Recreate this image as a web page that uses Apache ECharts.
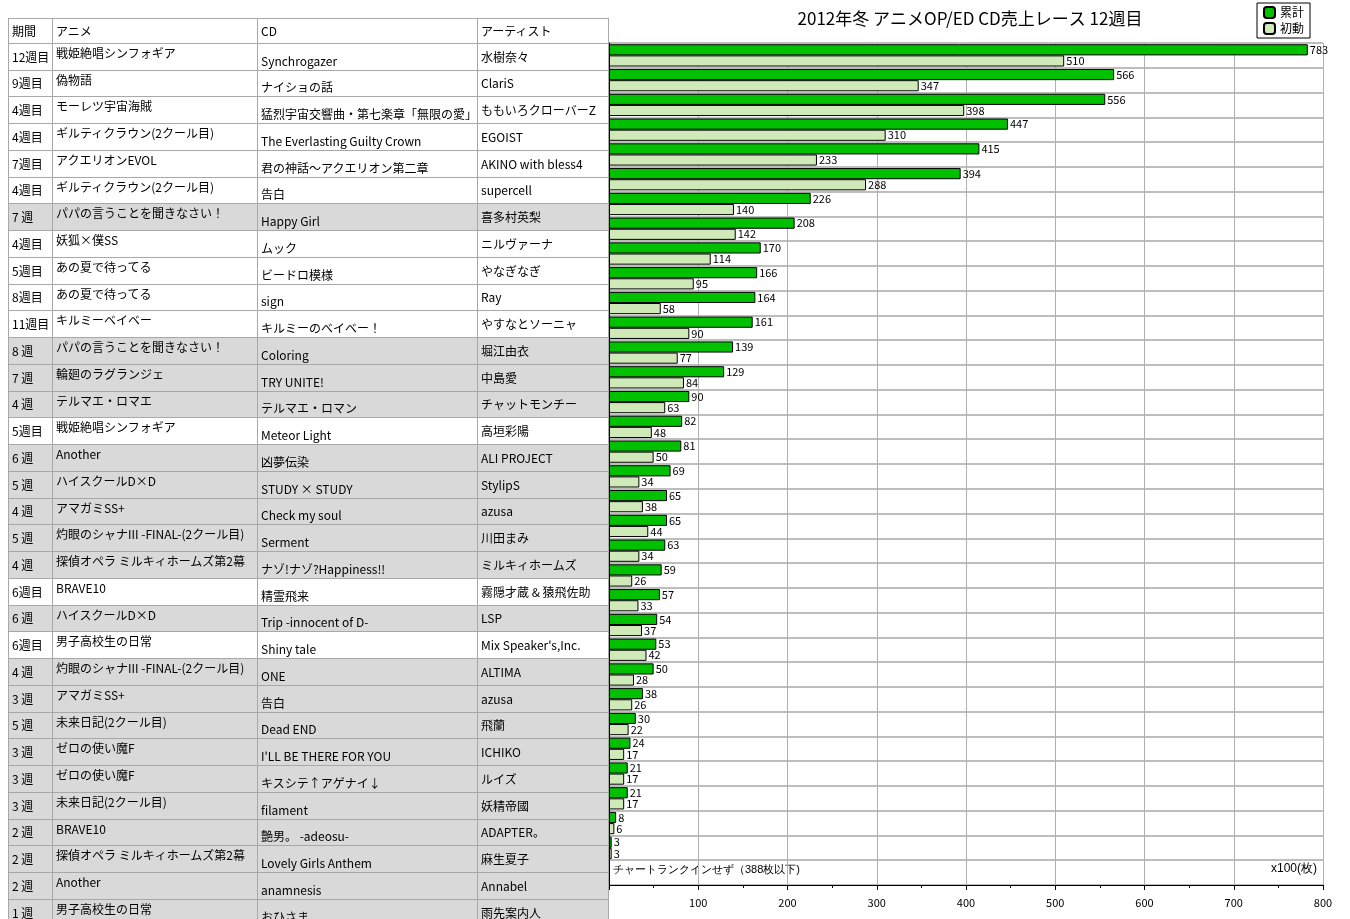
<!DOCTYPE html>
<html>
<head>
<meta charset="utf-8">
<script src="https://cdn.jsdelivr.net/npm/echarts@6/dist/echarts.min.js"></script>
<style>
body{margin:0;background:#fff;font-family:"Noto Sans CJK JP",sans-serif;}
#tbl{position:absolute;left:8px;top:18px;border-collapse:collapse;font-size:12px;table-layout:fixed;}
#tbl td{border:1px solid #a8a8a8;height:23.76px;padding:0 0 0 3px;white-space:nowrap;overflow:hidden;line-height:14px;}
#tbl tr.g td{background:#d9d9d9;}
#main{position:absolute;left:0;top:0;width:1350px;height:919px;}
</style>
</head>
<body>
<div id="main"></div>
<table id="tbl"></table>
<script>
// 表の中身
var weeks = ['12週目','9週目','4週目','4週目','7週目','4週目','7 週','4週目','5週目','8週目','11週目','8 週','7 週','4 週','5週目','6 週','5 週','4 週','5 週','4 週','6週目','6 週','6週目','4 週','3 週','5 週','3 週','3 週','3 週','2 週','2 週','2 週','1 週','0 週'];
var animes = ['戦姫絶唱シンフォギア','偽物語','モーレツ宇宙海賊','ギルティクラウン(2クール目)','アクエリオンEVOL','ギルティクラウン(2クール目)','パパの言うことを聞きなさい！','妖狐×僕SS','あの夏で待ってる','あの夏で待ってる','キルミーベイベー','パパの言うことを聞きなさい！','輪廻のラグランジェ','テルマエ・ロマエ','戦姫絶唱シンフォギア','Another','ハイスクールD×D','アマガミSS+','灼眼のシャナIII -FINAL-(2クール目)','探偵オペラ ミルキィホームズ第2幕','BRAVE10','ハイスクールD×D','男子高校生の日常','灼眼のシャナIII -FINAL-(2クール目)','アマガミSS+','未来日記(2クール目)','ゼロの使い魔F','ゼロの使い魔F','未来日記(2クール目)','BRAVE10','探偵オペラ ミルキィホームズ第2幕','Another','男子高校生の日常','リコーダーとランドセル ド♪'];
var cds = ['Synchrogazer','ナイショの話','猛烈宇宙交響曲・第七楽章「無限の愛」','The Everlasting Guilty Crown','君の神話～アクエリオン第二章','告白','Happy Girl','ムック','ビードロ模様','sign','キルミーのベイベー！','Coloring','TRY UNITE!','テルマエ・ロマン','Meteor Light','凶夢伝染','STUDY × STUDY','Check my soul','Serment','ナゾ!ナゾ?Happiness!!','精霊飛来','Trip -innocent of D-','Shiny tale','ONE','告白','Dead END','I\'LL BE THERE FOR YOU','キスシテ↑アゲナイ↓','filament','艶男。 -adeosu-','Lovely Girls Anthem','anamnesis','おひさま','Glitter'];
var artists = ['水樹奈々','ClariS','ももいろクローバーZ','EGOIST','AKINO with bless4','supercell','喜多村英梨','ニルヴァーナ','やなぎなぎ','Ray','やすなとソーニャ','堀江由衣','中島愛','チャットモンチー','高垣彩陽','ALI PROJECT','StylipS','azusa','川田まみ','ミルキィホームズ','霧隠才蔵 & 猿飛佐助','LSP','Mix Speaker\'s,Inc.','ALTIMA','azusa','飛蘭','ICHIKO','ルイズ','妖精帝國','ADAPTER。','麻生夏子','Annabel','雨先案内人','多田葵 feat.Sister 773'];
var shaded = [0,0,0,0,0,0,1,0,0,0,0,1,1,1,0,1,1,1,1,1,0,1,0,1,1,1,1,1,1,1,1,1,1,1];
// x100枚
var total = [783,566,556,447,415,394,226,208,170,166,164,161,139,129,90,82,81,69,65,65,63,59,57,54,53,50,38,30,24,21,21,8,3,null];
var first = [510,347,398,310,233,288,140,142,114,95,58,90,77,84,63,48,50,34,38,44,34,26,33,37,42,28,26,22,17,17,17,6,3,null];

var html = '<colgroup><col style="width:44px"><col style="width:205px"><col style="width:220px"><col style="width:131px"></colgroup>';
html += '<tr><td>期間</td><td>アニメ</td><td>CD</td><td>アーティスト</td></tr>';
for (var i = 0; i < weeks.length; i++) {
    html += '<tr class="' + (shaded[i] ? 'g' : '') + '"><td>' + weeks[i] + '</td><td style="vertical-align:top;padding-top:2px">' + animes[i] +
        '</td><td style="vertical-align:bottom;padding-bottom:2px">' + cds[i] + '</td><td>' + artists[i] + '</td></tr>';
}
document.getElementById('tbl').innerHTML = html;

var cats = weeks.map(function (w, i) { return String(i); });
var lbl = {show: true, position: 'right', distance: 2, color: '#000', fontSize: 11, fontFamily: 'Noto Sans CJK JP'};

var myChart = echarts.init(document.getElementById('main'));
myChart.setOption({
    animation: false,
    textStyle: {fontFamily: 'Noto Sans CJK JP'},
    title: {
        text: '2012年冬 アニメOP/ED CD売上レース 12週目',
        left: 965, top: 5, textAlign: 'center',
        textStyle: {fontSize: 17, fontWeight: 'normal', color: '#000'}
    },
    legend: {
        orient: 'vertical', left: 1257, top: 3,
        itemWidth: 11, itemHeight: 11, itemGap: 3, padding: [3, 6, 3, 6],
        borderColor: '#000', borderWidth: 1,
        textStyle: {fontSize: 12, color: '#000'},
        data: ['累計', '初動']
    },
    grid: {left: 609, right: 27, top: 43, bottom: 34},
    xAxis: {
        type: 'value', min: 0, max: 800, interval: 100,
        axisLine: {show: true, lineStyle: {color: '#000'}},
        axisTick: {show: true, lineStyle: {color: '#000'}},
        minorTick: {show: true, splitNumber: 2, length: 3, lineStyle: {color: '#000'}},
        axisLabel: {color: '#000', fontSize: 11, margin: 12, showMinLabel: false},
        splitLine: {show: true, lineStyle: {color: '#b0b0b0', width: 1}}
    },
    yAxis: {
        type: 'category', inverse: true, data: cats,
        axisLine: {show: true, lineStyle: {color: '#000', width: 1}},
        axisTick: {show: false}, axisLabel: {show: false},
        splitLine: {show: true, lineStyle: {color: '#bdbdbd', width: 2}}
    },
    series: [
        {name: '累計', type: 'bar', data: total, barGap: '0%', barCategoryGap: '10%',
            itemStyle: {color: '#00c000', borderColor: '#000', borderWidth: 1}, label: lbl},
        {name: '初動', type: 'bar', data: first,
            itemStyle: {color: '#cfe9b8', borderColor: '#000', borderWidth: 1}, label: lbl}
    ],
    graphic: [
        {type: 'rect', left: 1323, top: 43, shape: {width: 1, height: 842}, style: {fill: '#000'}},
        {type: 'rect', left: 609, top: 43, shape: {width: 714, height: 1}, style: {fill: '#808080'}},
        {type: 'text', left: 613, top: 864, style: {text: 'チャートランクインせず（388枚以下)', fontSize: 11, fill: '#000'}},
        {type: 'text', right: 33, top: 863, style: {text: 'x100(枚)', fontSize: 12, fill: '#000'}}
    ]
});
</script>
</body>
</html>
